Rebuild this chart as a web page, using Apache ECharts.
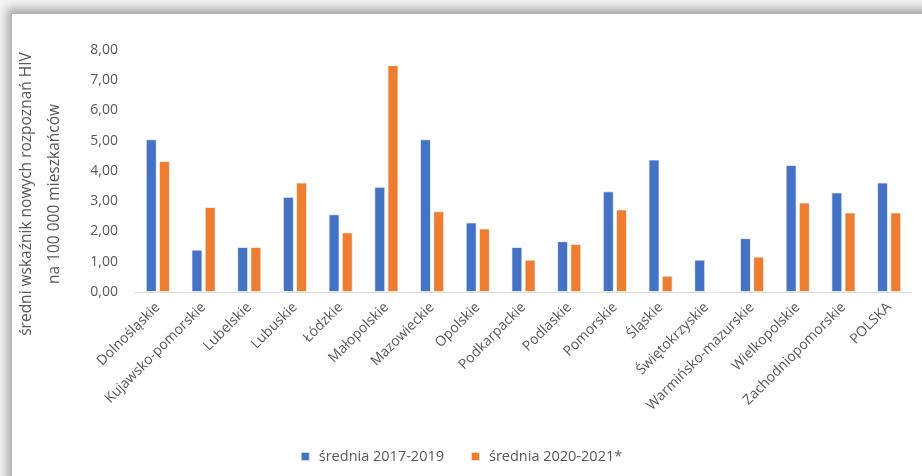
<!DOCTYPE html>
<html>
<head>
<meta charset="utf-8">
<script src="https://cdn.jsdelivr.net/npm/echarts@6/dist/echarts.min.js"></script>
<style>
  html, body { margin: 0; padding: 0; background: #ffffff; }
  #wrap { position: relative; width: 922px; height: 476px; overflow: hidden; background: #f4f4f4; }
  #panel { position: absolute; left: 12px; top: 14px; width: 930px; height: 480px; background: #fff;
           box-shadow: -5px -6px 9px rgba(0,0,0,0.3); }
  #chart { position: absolute; left: 0; top: 0; width: 922px; height: 476px; }
</style>
</head>
<body>
<div id="wrap">
  <div id="panel"></div>
  <div id="chart"></div>
</div>
<script>
var regions = ['Dolnośląskie', 'Kujawsko-pomorskie', 'Lubelskie', 'Lubuskie', 'Łódzkie',
  'Małopolskie', 'Mazowieckie', 'Opolskie', 'Podkarpackie', 'Podlaskie', 'Pomorskie',
  'Śląskie', 'Świętokrzyskie', 'Warmińsko-mazurskie', 'Wielkopolskie',
  'Zachodniopomorskie', 'POLSKA'];
var avg2017_2019 = [5.05, 1.40, 1.49, 3.15, 2.57, 3.48, 5.05, 2.30, 1.49, 1.68, 3.33,
  4.38, 1.07, 1.78, 4.20, 3.29, 3.62];
var avg2020_2021 = [4.33, 2.81, 1.49, 3.62, 1.97, 7.50, 2.67, 2.10, 1.07, 1.59, 2.73,
  0.54, 0, 1.17, 2.96, 2.63, 2.63];
var seriesNames = ['średnia 2017-2019', 'średnia 2020-2021*'];
var yTitle = 'średni wskaźnik nowych rozpoznań HIV\nna 100 000 mieszkańców';

var font = '"Open Sans", "DejaVu Sans", sans-serif';
var grey = '#595959';

var chart = echarts.init(document.getElementById('chart'));
chart.setOption({
  animation: false,
  textStyle: { fontFamily: font },
  grid: { left: 135, right: 10, top: 50, bottom: 184 },
  legend: {
    bottom: 7,
    left: 'center',
    itemWidth: 9,
    itemHeight: 9,
    itemGap: 26,
    icon: 'rect',
    textStyle: { color: grey, fontSize: 14.5, fontFamily: font, padding: [0, 0, 0, 4] },
    data: seriesNames
  },
  xAxis: {
    type: 'category',
    data: regions,
    axisLine: { lineStyle: { color: '#d9d9d9', width: 1 } },
    axisTick: { show: false },
    axisLabel: { rotate: 45, margin: 13, color: grey, fontSize: 14, fontFamily: font, interval: 0 }
  },
  yAxis: {
    type: 'value',
    min: 0,
    max: 8,
    interval: 1,
    name: yTitle,
    nameLocation: 'middle',
    nameRotate: 90,
    nameGap: 66,
    nameTextStyle: { color: grey, fontSize: 15.5, lineHeight: 28, fontFamily: font, padding: [0, 46, 0, 0] },
    axisLine: { show: false },
    axisTick: { show: false },
    splitLine: { show: false },
    axisLabel: {
      margin: 17,
      color: grey,
      fontSize: 14,
      fontFamily: font,
      formatter: function (v) { return v.toFixed(2).replace('.', ','); }
    }
  },
  series: [
    {
      name: seriesNames[0],
      type: 'bar',
      data: avg2017_2019,
      barWidth: 11,
      barGap: '20%',
      itemStyle: { color: '#4472C4', borderColor: 'rgba(255,255,255,0.7)', borderWidth: 1 }
    },
    {
      name: seriesNames[1],
      type: 'bar',
      data: avg2020_2021,
      barWidth: 11,
      itemStyle: { color: '#ED7D31', borderColor: 'rgba(255,255,255,0.7)', borderWidth: 1 }
    }
  ]
});
</script>
</body>
</html>
